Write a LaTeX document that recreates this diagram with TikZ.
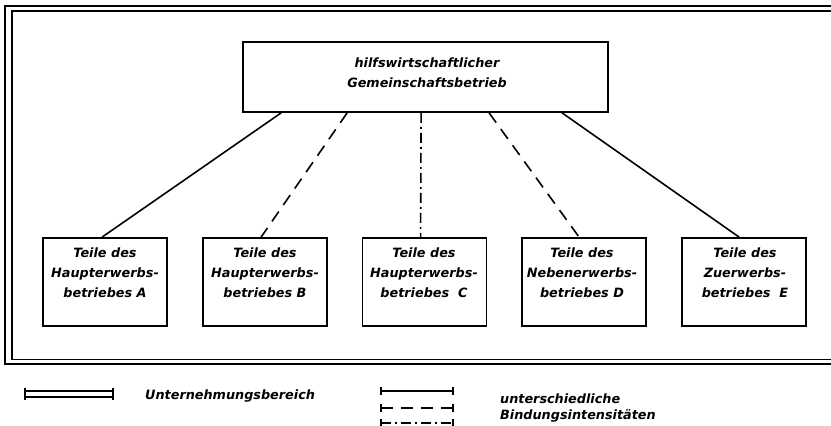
\documentclass[tikz,border=0pt]{standalone}
\usepackage{fontspec}
\setmainfont{DejaVu Sans}
\usetikzlibrary{calc}
\begin{document}
\begin{tikzpicture}[x=1pt,y=-1pt,
  lbl/.style={font=\bfseries\itshape\fontsize{12.8}{20}\selectfont, align=center, inner sep=0pt},
  leg/.style={font=\bfseries\itshape\fontsize{12.8}{16.5}\selectfont, align=left, inner sep=0pt, anchor=west},
  box/.style={draw, line width=1.8pt, minimum width=124pt, minimum height=88pt, inner sep=0pt},
  conn/.style={line width=1.6pt},
  dashline/.style={conn, dash pattern=on 12pt off 8pt},
  dotline/.style={conn, dash pattern=on 10pt off 4pt on 2pt off 4pt},
  frameline/.style={line width=1.9pt},
  tick/.style={line width=1.7pt}]
\useasboundingbox (0,0) rectangle (831,426);
\clip (0,0) rectangle (831,426);
% frame (Unternehmungsbereich)
\draw[frameline] (5,6) rectangle (845,364);
\draw[frameline] (12,11) rectangle (840,359.5);
% top box
\node[draw, line width=1.8pt, minimum width=365pt, minimum height=70pt, inner sep=0pt] (top) at (425.5,77) {};
\node[lbl] (toplbl) at (427,73) {hilfswirtschaftlicher\\Gemeinschaftsbetrieb};
% bottom boxes
\node[box] (A) at (105,282) {};
\node[box] (B) at (265,282) {};
\node[box] (C) at (424.5,282) {};
\node[box] (D) at (584,282) {};
\node[box] (E) at (744,282) {};
\node[lbl] (lA) at (105,273) {Teile des\\Haupterwerbs-\\betriebes A};
\node[lbl] (lB) at (265,273) {Teile des\\Haupterwerbs-\\betriebes B};
\node[lbl] (lC) at (424,273) {Teile des\\Haupterwerbs-\\betriebes\ \ C};
\node[lbl] (lD) at (582,273) {Teile des\\Nebenerwerbs-\\betriebes D};
\node[lbl] (lE) at (745,273) {Teile des\\Zuerwerbs-\\betriebes\ \ E};
% connectors
\draw[conn] ([xshift=39pt]top.south west) -- ([xshift=60pt]A.north west);
\draw[dashline] ([xshift=105pt]top.south west) -- ([xshift=59pt]B.north west);
\draw[dotline] ([xshift=179pt]top.south west) -- ([xshift=59pt]C.north west);
\draw[dashline] ([xshift=247pt]top.south west) -- ([xshift=58pt]D.north west);
\draw[conn] ([xshift=320pt]top.south west) -- ([xshift=58pt]E.north west);
% legend: Unternehmungsbereich
\coordinate (u1) at (25,391); \coordinate (u2) at (113,391);
\coordinate (u3) at (25,396.5); \coordinate (u4) at (113,396.5);
\draw[tick, line width=2pt] (u1) -- (u2);
\draw[tick, line width=2pt] (u3) -- (u4);
\draw[tick] (25,387.5) -- (25,400);
\draw[tick] (113,387.5) -- (113,400);
\node[leg] (legU) at (145,396) {Unternehmungsbereich};
% legend: Bindungsintensitaeten
\coordinate (s1) at (381,391); \coordinate (s2) at (453,391);
\coordinate (d1) at (381,408); \coordinate (d2) at (453,408);
\coordinate (c1) at (381,423); \coordinate (c2) at (453,423);
\draw[tick] (s1) -- (s2);
\draw[tick, dash pattern=on 12pt off 8pt] (d1) -- (d2);
\draw[tick, dash pattern=on 10pt off 4pt on 2pt off 4pt] (c1) -- (c2);
\foreach \y in {391,408,423}{
  \draw[tick] (381,\y-4) -- (381,\y+4);
  \draw[tick] (453,\y-4) -- (453,\y+4);
}
\node[leg] (legB) at (500,408) {unterschiedliche\\Bindungsintensitäten};
\end{tikzpicture}
\end{document}
